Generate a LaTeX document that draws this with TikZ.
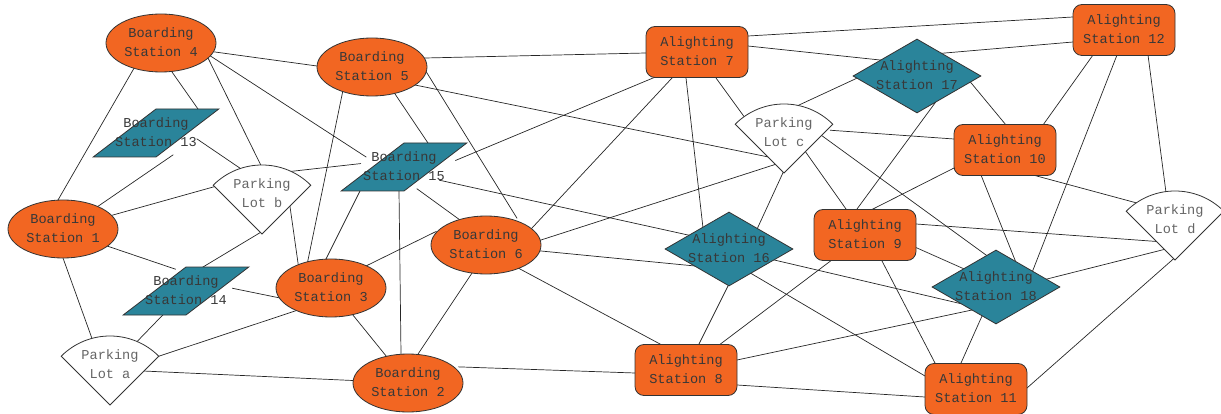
\documentclass[tikz,border=0pt]{standalone}
\usepackage{fontspec}
\setmonofont{Liberation Mono}
\usetikzlibrary{shapes.geometric}
\pgfdeclarelayer{bg}
\pgfdeclarelayer{mid}
\pgfsetlayers{bg,mid,main}

\definecolor{stationorange}{HTML}{F26622}
\definecolor{stationteal}{HTML}{2A849A}
\definecolor{outlinegray}{HTML}{333333}

\newcommand{\twolines}[2]{\makebox[0pt]{\begin{tabular}{@{}c@{}}#1\\#2\end{tabular}}}
% same box as \twolines, text lifted a little inside the sector
\newcommand{\lotlines}[2]{\rule[-15.6pt]{0pt}{38pt}\raisebox{4pt}{\smash{\twolines{#1}{#2}}}}

\tikzset{
  base/.style={draw=outlinegray, line width=0.8pt, inner sep=0pt,
    font=\ttfamily\fontsize{13.6}{19}\selectfont, text=black!78},
  board/.style={base, ellipse, fill=stationorange, minimum width=110pt, minimum height=58pt},
  hub/.style={base, trapezium, trapezium left angle=58, trapezium right angle=122,
    trapezium stretches=true, fill=stationteal, minimum width=126pt, minimum height=48pt},
  alight/.style={base, rectangle, rounded corners=9pt, fill=stationorange,
    minimum width=102pt, minimum height=51pt},
  transfer/.style={base, diamond, aspect=1.73, fill=stationteal,
    minimum width=128pt, minimum height=74pt},
  lot/.style={base, draw=none, text=black!60},
  lotfan/.style={draw=outlinegray, line width=0.8pt, fill=white},
  link/.style={line width=0.7pt, draw=black!85, shorten <=-4pt, shorten >=-4pt}
}

\begin{document}
\begin{tikzpicture}[x=1pt, y=-1pt]
  \useasboundingbox (0,0) rectangle (1221,414);

  % boarding side
  \node[board] (b4) at (161,43) {\twolines{Boarding}{Station 4}};
  \node[board] (b5) at (372,67) {\twolines{Boarding}{Station 5}};
  \node[board] (b1) at (63,229) {\twolines{Boarding}{Station 1}};
  \node[board] (b3) at (331,288) {\twolines{Boarding}{Station 3}};
  \node[board] (b6) at (486,245) {\twolines{Boarding}{Station 6}};
  \node[board] (b2) at (408,383) {\twolines{Boarding}{Station 2}};
  \node[hub] (b13) at (156,133) {\twolines{Boarding}{Station 13}};
  \node[hub] (b15) at (404,167) {\twolines{Boarding}{Station 15}};
  \node[hub] (b14) at (186,291) {\twolines{Boarding}{Station 14}};

  % parking lots, the fan shape sits under the text
  \node[lot] (lotb) at (262,198.5) {\lotlines{Parking}{Lot b}};
  \node[lot] (lota) at (110,369.5) {\lotlines{Parking}{Lot a}};
  \node[lot] (lotc) at (784,137.5) {\lotlines{Parking}{Lot c}};
  \node[lot] (lotd) at (1175,224.5) {\lotlines{Parking}{Lot d}};
  \begin{pgfonlayer}{mid}
  \foreach \lot in {lota,lotb,lotc,lotd}
    \draw[lotfan] ([shift={(0,35.5)}]\lot.center) -- ++(-48.8,-48.8)
      arc[start angle=225, end angle=315, radius=69] -- cycle;
  \end{pgfonlayer}

  % alighting side
  \node[alight] (a7) at (697,52) {\twolines{Alighting}{Station 7}};
  \node[alight] (a12) at (1124,30) {\twolines{Alighting}{Station 12}};
  \node[alight] (a10) at (1005,150) {\twolines{Alighting}{Station 10}};
  \node[alight] (a9) at (865,235) {\twolines{Alighting}{Station 9}};
  \node[alight] (a8) at (686,370) {\twolines{Alighting}{Station 8}};
  \node[alight] (a11) at (976,389) {\twolines{Alighting}{Station 11}};
  \node[transfer] (a17) at (917,76) {\twolines{Alighting}{Station 17}};
  \node[transfer] (a16) at (729,249) {\twolines{Alighting}{Station 16}};
  \node[transfer] (a18) at (996,287) {\twolines{Alighting}{Station 18}};

  % connections, each end given as an offset from the node centre
  \begin{pgfonlayer}{bg}
  \foreach \from/\fx/\fy/\to/\tx/\ty in {
      b4/-28/27/b1/-5/-29, b4/11/29/b13/42/-24, b4/48/17/lotb/0/-31,
      b4/51/14/b15/-41/-12, b4/54/9/b5/-55/-1,
      b13/14/24/b1/34/-22, b13/44/8/lotb/-23/-31,
      lotb/-47/-12/b1/50/-14, lotb/28/-27/b15/-47/-3, lotb/0/33/b14/17/-24,
      lotb/28/8/b3/-33/-25,
      b1/47/18/b14/-14/-23, b1/0/29/lota/-18/-31,
      b14/0/0/lota/0/0, b14/50/-2/b3/-51/10,
      lota/48/-13/b3/-36/23, lota/0/0/b2/0/0,
      b3/-23/-28/b5/-30/28, b3/-5/-29/b15/-44/24, b3/37/-23/b6/-53/-12,
      b3/0/0/b2/0/0,
      b2/-7/-29/b15/-5/24, b2/10/-29/b6/-14/28, b2/54/-16/a8/-51/3,
      b5/53/-9/a7/-51/1, b5/23/27/b15/24/-24, b5/55/6/b6/29/-30,
      b5/43/18/lotc/-18/19,
      b15/55/-8/a7/-44/26, b15/39/14/a16/-41/-14, b15/16/24/b6/-26/-25,
      b6/46/-17/a7/-25/26, b6/55/-5/lotc/-9/27, b6/55/6/a16/-34/17,
      b6/34/24/a8/-26/-26,
      a7/51/-16/a12/-51/-13, a7/51/-6/a17/-37/-16, a7/19/26/lotc/-40/-21,
      a7/-11/26/a16/-26/-21,
      lotc/14/-32/a17/-64/4, lotc/50/-7/a10/-51/-11, lotc/22/15/a9/-19/-26,
      lotc/39/-1/a18/-10/-32, lotc/0/33/a16/29/-22,
      a17/28/-23/a12/-51/12, a17/55/8/a10/1/-25, a17/18/27/a9/-8/-26,
      a12/-31/25/a10/38/-25, a12/-7/25/a18/37/-17, a12/24/25/lotd/-9/-32,
      a10/-51/18/a9/8/-26, a10/-24/25/a18/19/-27, a10/28/25/lotd/-40/-22,
      a9/51/-11/lotd/-18/17, lotd/-11/25/a18/51/-8, lotd/0/33/a11/51/-1,
      a9/52/13/a18/-34/-19, a9/17/26/a11/-41/-26, a9/0/0/a8/0/0,
      a16/41/10/a18/-38/16, a16/23/25/a11/-51/-13, a16/-1/37/a8/13/-26,
      a8/51/-10/a18/-24/23, a8/51/15/a11/-51/8, a11/-15/-26/a18/-14/29}
    \draw[link] ([shift={(\fx,\fy)}]\from.center) -- ([shift={(\tx,\ty)}]\to.center);
  \end{pgfonlayer}
\end{tikzpicture}
\end{document}
